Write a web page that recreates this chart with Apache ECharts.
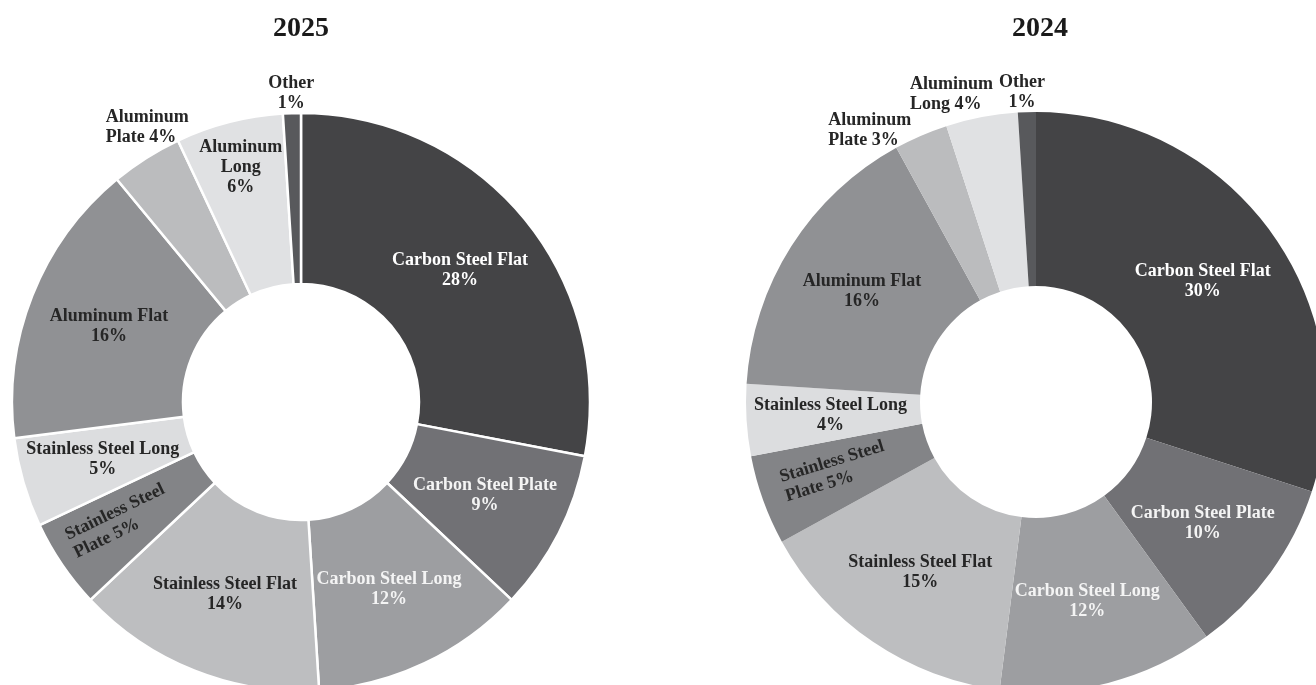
<!DOCTYPE html>
<html>
<head>
<meta charset="utf-8">
<script src="https://cdn.jsdelivr.net/npm/echarts@6/dist/echarts.min.js"></script>
<style>
  html, body { margin: 0; padding: 0; background: #ffffff; }
  #chart { width: 1316px; height: 685px; }
</style>
</head>
<body>
<div id="chart"></div>
<script>
// Product mix by share of volume, two years side by side
const categories = [
  'Carbon Steel Flat', 'Carbon Steel Plate', 'Carbon Steel Long',
  'Stainless Steel Flat', 'Stainless Steel Plate', 'Stainless Steel Long',
  'Aluminum Flat', 'Aluminum Plate', 'Aluminum Long', 'Other'
];
const years = ['2025', '2024'];
const share2025 = [28, 9, 12, 14, 5, 5, 16, 4, 6, 1];
const share2024 = [30, 10, 12, 15, 5, 4, 16, 3, 4, 1];

// Label text with the line breaks used on each ring ({c} = value)
const labelText2025 = [
  'Carbon Steel Flat\n{c}%', 'Carbon Steel Plate\n{c}%', 'Carbon Steel Long\n{c}%',
  'Stainless Steel Flat\n{c}%', 'Stainless Steel\nPlate {c}%', 'Stainless Steel Long\n{c}%',
  'Aluminum Flat\n{c}%', 'Aluminum\nPlate {c}%', 'Aluminum\nLong\n{c}%', 'Other\n{c}%'
];
const labelText2024 = [
  'Carbon Steel Flat\n{c}%', 'Carbon Steel Plate\n{c}%', 'Carbon Steel Long\n{c}%',
  'Stainless Steel Flat\n{c}%', 'Stainless Steel\nPlate {c}%', 'Stainless Steel Long\n{c}%',
  'Aluminum Flat\n{c}%', 'Aluminum\nPlate {c}%', 'Aluminum\nLong {c}%', 'Other\n{c}%'
];

// Grey palette per category, and the text colour that sits on each
const sliceColors = [
  '#444446', '#717175', '#9d9ea1', '#bdbec0', '#838487',
  '#dcdddf', '#909194', '#bbbcbe', '#e0e1e3', '#58595c'
];
const labelColors = [
  '#ffffff', '#f4f4f4', '#f4f4f4', '#262626', '#262626',
  '#262626', '#262626', '#262626', '#262626', '#262626'
];

// Ring geometry (px) and title anchor x
const rings = [
  { center: [301, 402], radius: [118, 289], border: 2.5, titleX: 296 },
  { center: [1036, 402], radius: [116, 290], border: 0, titleX: 1035 }
];

// Labels that leave the default mid-ring spot: radial distance r (px),
// angle shift da (deg) from the slice middle, alignment and tilt
const labelPlacement = [
  {
    4: { r: 271, da: 2.4, rotate: 26, align: 'left' },
    7: { r: 337, da: -3, align: 'left' },
    8: { r: 242, da: 0 },
    9: { r: 309, da: 0 }
  },
  {
    4: { r: 267, da: 1.2, rotate: 17, align: 'left' },
    7: { r: 342, da: -14, align: 'left' },
    8: { r: 332, da: -11.5, align: 'left' },
    9: { r: 310, da: -0.8 }
  }
];

const seriesValues = [share2025, share2024];
const seriesLabels = [labelText2025, labelText2024];

function midAngle(values, idx) {
  const total = values.reduce((a, b) => a + b, 0);
  let before = 0;
  for (let i = 0; i < idx; i++) before += values[i];
  return (before + values[idx] / 2) / total * 360; // clockwise from 12 o'clock
}

function buildSeries(k) {
  const values = seriesValues[k];
  const ring = rings[k];
  return {
    type: 'pie',
    center: ring.center,
    radius: ring.radius,
    startAngle: 90,
    clockwise: true,
    silent: true,
    avoidLabelOverlap: false,
    itemStyle: {
      borderColor: '#ffffff',
      borderWidth: ring.border
    },
    label: {
      show: true,
      position: 'inside',
      fontFamily: '"Liberation Serif", "Times New Roman", serif',
      fontWeight: 'bold',
      fontSize: 18,
      lineHeight: 20,
      align: 'center'
    },
    labelLine: { show: false },
    labelLayout: function (params) {
      const p = labelPlacement[k][params.dataIndex];
      if (!p) return {};
      const a = (midAngle(values, params.dataIndex) + (p.da || 0)) * Math.PI / 180;
      return {
        x: ring.center[0] + p.r * Math.sin(a),
        y: ring.center[1] - p.r * Math.cos(a),
        align: p.align || 'center',
        verticalAlign: 'middle',
        rotate: p.rotate || 0
      };
    },
    data: categories.map((name, i) => ({
      name: name,
      value: values[i],
      itemStyle: { color: sliceColors[i] },
      label: { formatter: seriesLabels[k][i], color: labelColors[i] }
    }))
  };
}

const chart = echarts.init(document.getElementById('chart'), null, { renderer: 'canvas' });
chart.setOption({
  animation: false,
  backgroundColor: '#ffffff',
  title: years.map((y, k) => ({
    text: y,
    left: rings[k].titleX,
    top: 10,
    textAlign: 'center',
    textStyle: {
      fontFamily: '"Liberation Serif", "Times New Roman", serif',
      fontWeight: 'bold',
      fontSize: 28,
      color: '#1a1a1a'
    }
  })),
  series: [buildSeries(0), buildSeries(1)]
});
</script>
</body>
</html>
